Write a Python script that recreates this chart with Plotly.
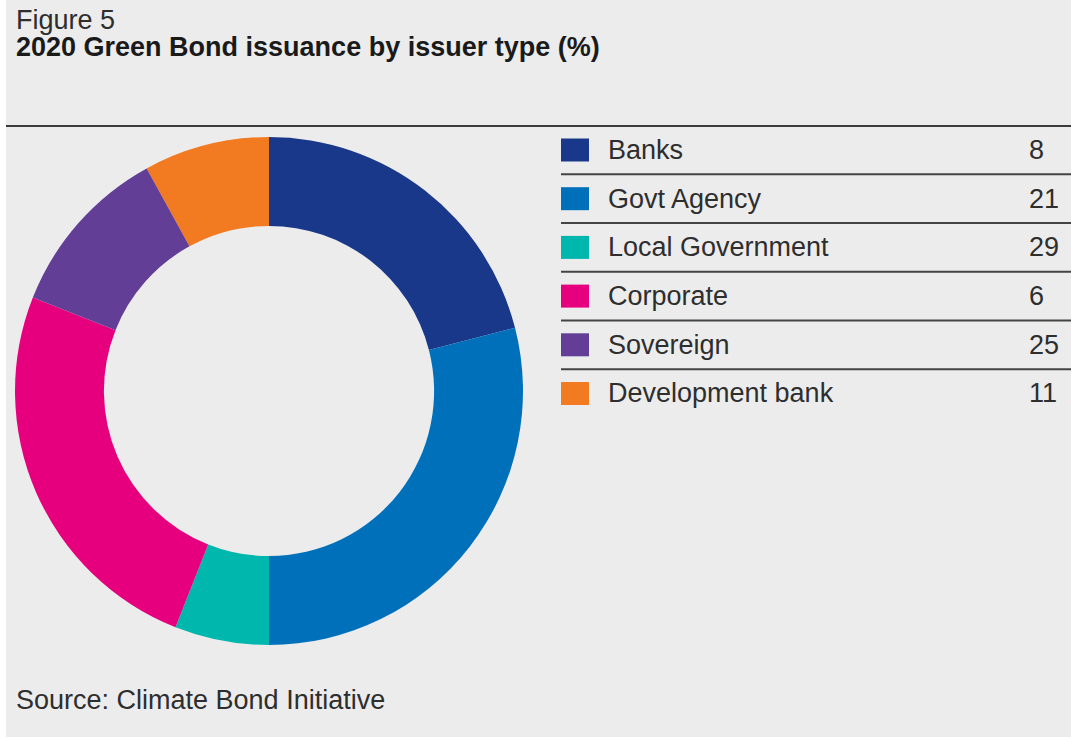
import plotly.graph_objects as go

# Issuer types and their share of 2020 green bond issuance (%)
issuers = ["Banks", "Govt Agency", "Local Government", "Corporate", "Sovereign", "Development bank"]
shares = [8, 21, 29, 6, 25, 11]
issuer_colors = ["#1a388a", "#0070bb", "#00b7ae", "#e6007e", "#633e96", "#f27a21"]

title_small = "Figure 5"
title_main = "2020 Green Bond issuance by issuer type (%)"
source_note = "Source: Climate Bond Initiative"

W, H = 1071, 739
FONT = "Liberation Sans, Arial, sans-serif"
FS = 27
TEXT = "#2e2e2e"
BG = "#ececec"


def px(x):
    return x / W


def py(y):
    return 1 - y / H


# ring colours, slice by slice, and the angle where the first slice starts
slice_colors = issuer_colors[-1:] + issuer_colors[:-1]
start_angle = -360 * shares[0] / sum(shares)

# donut geometry (pixels)
cx, cy, r = 269, 391, 254

fig = go.Figure(
    go.Pie(
        labels=issuers,
        values=shares,
        marker=dict(colors=slice_colors, line=dict(width=0)),
        hole=0.65,
        sort=False,
        direction="clockwise",
        rotation=start_angle,
        textinfo="none",
        hoverinfo="label+value",
        showlegend=False,
        domain=dict(x=[px(cx - r), px(cx + r)], y=[py(cy + r), py(cy - r)]),
    )
)

shapes = [
    # panel background
    dict(type="rect", xref="paper", yref="paper", x0=px(6), x1=1, y0=py(737), y1=1,
         fillcolor=BG, line=dict(width=0), layer="below"),
    # rule under the heading
    dict(type="line", xref="paper", yref="paper", x0=px(6), x1=1, y0=py(126), y1=py(126),
         line=dict(color="#3a3a3a", width=2)),
]

annotations = [
    dict(text=title_small, x=px(14), y=py(20), xanchor="left", yanchor="middle",
         font=dict(family=FONT, size=FS, color=TEXT)),
    dict(text="<b>" + title_main + "</b>", x=px(14), y=py(47), xanchor="left", yanchor="middle",
         font=dict(family=FONT, size=FS, color="#1a1a1a")),
    dict(text=source_note, x=px(14), y=py(700), xanchor="left", yanchor="middle",
         font=dict(family=FONT, size=FS, color=TEXT)),
]

# key table: swatch, issuer name, share, with rules between rows
row0, step = 150, 48.7
for i, (name, val, col) in enumerate(zip(issuers, shares, issuer_colors)):
    yc = row0 + i * step
    shapes.append(dict(type="rect", xref="paper", yref="paper",
                       x0=px(561), x1=px(589), y0=py(yc + 11.5), y1=py(yc - 11.5),
                       fillcolor=col, line=dict(width=0)))
    annotations.append(dict(text=name, x=px(606), y=py(yc), xanchor="left", yanchor="middle",
                            font=dict(family=FONT, size=FS, color=TEXT)))
    annotations.append(dict(text=str(val), x=px(1027), y=py(yc), xanchor="left", yanchor="middle",
                            font=dict(family=FONT, size=FS, color=TEXT)))
    if i < len(issuers) - 1:
        ys = yc + step / 2
        shapes.append(dict(type="line", xref="paper", yref="paper",
                           x0=px(561), x1=1, y0=py(ys), y1=py(ys),
                           line=dict(color="#444444", width=2)))

for a in annotations:
    a.update(xref="paper", yref="paper", showarrow=False)

fig.update_layout(
    width=W,
    height=H,
    margin=dict(l=0, r=0, t=0, b=0),
    paper_bgcolor="#ffffff",
    plot_bgcolor="#ffffff",
    shapes=shapes,
    annotations=annotations,
)

fig.write_html("out.html")
